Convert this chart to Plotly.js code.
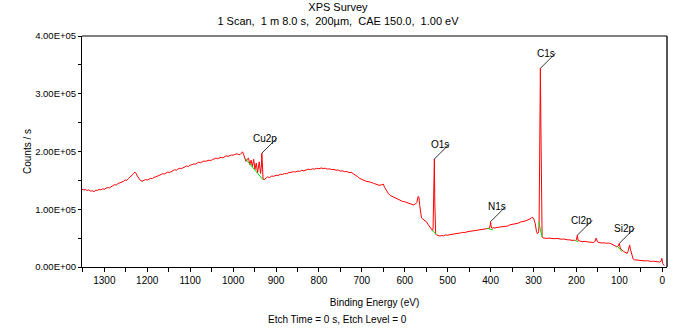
<!DOCTYPE html>
<html>
<head>
<meta charset="utf-8">
<script src="https://cdn.plot.ly/plotly-3.0.1.min.js"></script>
<style>html,body{margin:0;padding:0;background:#fff;}#chart{width:680px;height:328px;}</style>
</head>
<body>
<div id="chart"></div>
<script>
// Binding energy (eV) of survey spectrum points
const bindingEnergy = [
1352,1348,1344,1340,1336,1332,1328,1324,1320,1316,1312,1308,1304,1300,1296,1292,1288,1284,1280,1276,1272,1268,1264,1260,1256,1252,1248,1244,1240,1236,1232,1229,1226,1223,1220,1216,1212,1208,1204,1200,
1196,1192,1188,1184,1180,1176,1172,1168,1164,1160,1156,1152,1148,1144,1140,1136,1132,1128,1124,1120,1116,1112,1108,1104,1100,1096,1092,1088,1084,1080,
1076,1072,1068,1064,1060,1056,1052,1048,1044,1040,1036,1032,1028,1024,1020,1016,1012,1008,1004,1000,996,992,988,984,980,978,975,972,970,967,
964,961,958,955,952,949,946,943,939,936,934,933,932,930,928,925,920,915,910,905,900,895,890,885,880,875,870,865,860,855,
850,845,840,835,830,825,820,815,810,805,800,795,790,785,780,775,770,765,760,755,750,745,740,735,730,725,720,715,710,705,
700,695,690,685,680,673,668,665,660,655,650,647,643,638,634,630,625,620,615,610,605,600,595,590,585,580,576,572,569,567,
565,563,561,558,555,552,549,546,543,540,537,535,534,533,532,531,530,529,528,526,522,518,514,510,505,500,495,490,485,480,
475,470,465,460,455,450,445,440,435,430,425,420,415,410,406,403,401,400,399,397,394,390,385,380,375,370,365,360,355,350,
345,340,335,330,325,320,315,310,306,304,302,300,298,296,293,291,289,288,287,286,285,284,283,282,281,280,278,275,270,265,
260,255,250,245,240,235,230,225,220,215,210,205,202,200,198,196,193,190,185,180,175,170,165,160,157,154,151,148,145,140,
135,130,125,120,115,110,106,103,100,98,95,90,85,82,80,78,76,74,71,68,65,60,55,50,45,40,35,30,25,20,
15,10,6,3,1,-1,-3,-5
];
// Intensity (counts / s)
const countsPerSec = [
134500,133500,134000,132500,133500,131500,132000,130500,133000,132500,134500,133500,135500,134500,136500,137500,137000,139500,141000,142500,142000,144500,145500,147000,148000,150500,150000,153000,155500,158000,161500,164500,162000,157500,153500,150000,148500,149500,151500,150500,
152500,153500,153000,155500,156000,157500,158000,160500,161500,161000,163000,164500,163500,166000,167000,168500,167500,170000,171000,170500,172500,173500,175000,174000,176500,177000,178500,178000,180000,181500,
180500,182000,183500,183000,184500,185000,184000,186500,187000,188500,187500,189500,190000,189000,191000,192500,191500,193500,194000,193500,195500,196000,195000,194500,197500,199500,194000,188000,183000,187000,
188500,177000,185000,174000,186500,169000,180000,163000,182000,162000,175000,197000,168000,152000,151000,153500,156000,155000,157500,157000,159000,158500,160500,160000,162000,161500,163500,164000,165000,164500,
166000,165500,167500,166500,168000,169500,168500,170000,169500,171000,170000,171500,170500,171000,169500,170000,168500,169000,167500,168000,166000,166500,165000,165500,163500,164000,161500,159500,156500,153500,
151000,150000,148500,148000,147000,145000,143500,142500,141500,142000,143500,138000,132000,127000,124000,122500,120500,118500,116000,114000,113500,113000,111500,110500,109000,107500,108500,111500,122000,121000,
106000,92000,85000,83000,81500,80000,78000,74000,70500,66500,64000,62500,68000,130000,148000,187000,112000,62000,57000,55500,54000,53500,54500,54000,55500,55000,56000,56500,57500,57000,
58500,59000,60000,59500,61000,61500,62500,62000,63500,63000,64500,64000,65500,65000,66000,67000,72000,78500,71000,67000,68000,67500,68500,69000,70000,70500,71500,71000,73000,73500,
74000,75500,76000,78000,78500,79500,81000,82000,84000,86000,85000,84500,80000,75000,61000,58000,59000,62000,75000,150000,230000,344000,260000,100000,55000,52000,50500,50000,49500,50000,
49500,50000,49000,49500,48500,48000,48500,47500,47000,47000,46000,46500,45500,47000,55000,46000,45000,44500,44000,44500,43500,43000,43500,42500,44000,50000,43500,42500,42000,41500,
42000,41000,41500,40500,39000,37000,35000,36000,41000,33000,29500,27000,24000,23500,27000,36000,38000,30000,21000,14000,12500,12000,11500,12000,11000,10500,11000,10000,9500,10000,
9500,9000,8500,10000,15000,6000,3500,2500
];
// Green background (integration) segments, null separates regions
const backgroundBE = [972,930,null,537,527,null,408,395,null,288,280,null,203,196,null,105,94];
const backgroundCounts = [188000,151000,null,64000,57000,null,67000,64000,null,78500,52000,null,46000,44000,null,36000,27000];
// Peak labels
const peakNames = ['Cu2p','O1s','N1s','C1s','Cl2p','Si2p'];
const peakBE = [933,531,400,284,198,100];
const peakCounts = [197000,187000,78500,344000,55000,41000];
// Axis ticks
const yTickVals = [0,100000,200000,300000,400000];
const yTickText = ['0.00E+00','1.00E+05','2.00E+05','3.00E+05','4.00E+05'];
const yMinorVals = [50000,150000,250000,350000];

const FONT = 'Liberation Sans, Arial, sans-serif';

const traces = [
  {x: bindingEnergy, y: countsPerSec, type: 'scatter', mode: 'lines',
   line: {color: '#ff0000', width: 1}, hoverinfo: 'skip'},
  {x: backgroundBE, y: backgroundCounts, type: 'scatter', mode: 'lines',
   line: {color: '#00dd00', width: 1}, connectgaps: false, hoverinfo: 'skip'}
];

const shapes = peakNames.map((n, i) => ({
  type: 'line', xref: 'x', yref: 'y', xsizemode: 'pixel', ysizemode: 'pixel',
  xanchor: peakBE[i], yanchor: peakCounts[i], x0: 0, y0: 0, x1: 15, y1: 15,
  line: {color: '#333333', width: 1}
}));
shapes.push({type: 'line', xref: 'paper', yref: 'paper', x0: 1, x1: 1, y0: 0, y1: 1,
  line: {color: '#555555', width: 2}});
shapes.push({type: 'line', xref: 'paper', yref: 'paper', x0: 0, x1: 1, y0: 1, y1: 1,
  line: {color: '#000', width: 1}});

const annotations = peakNames.map((n, i) => ({
  text: n, x: peakBE[i], y: peakCounts[i], xref: 'x', yref: 'y',
  xshift: 17, yshift: 15, xanchor: 'right', yanchor: 'middle', showarrow: false,
  font: {family: FONT, size: 10, color: '#000'}
}));
annotations.push({text: 'Etch Time = 0 s, Etch Level = 0', xref: 'paper', yref: 'paper',
  x: 0.4376, y: -0.228, xanchor: 'center', yanchor: 'middle', showarrow: false,
  font: {family: FONT, size: 10, color: '#000'}});

const layout = {
  width: 680, height: 328,
  margin: {l: 82, r: 13, t: 36, b: 61},
  paper_bgcolor: '#fff', plot_bgcolor: '#fff',
  showlegend: false,
  font: {family: FONT, size: 10, color: '#000'},
  title: {text: 'XPS Survey<br>1 Scan,\u00a0 1 m 8.0 s,\u00a0 200µm,\u00a0 CAE 150.0,\u00a0 1.00 eV',
    xref: 'container', yref: 'container', x: 0.497, y: 0.967, xanchor: 'center', yanchor: 'top',
    font: {family: FONT, size: 11, color: '#000'}},
  xaxis: {range: [1352, -11], tick0: 0, dtick: 100, ticks: 'outside', ticklen: 4,
    tickcolor: '#000', showline: true, linecolor: '#000', linewidth: 1, mirror: false,
    showgrid: false, zeroline: false,
    minor: {dtick: 50, ticks: 'outside', ticklen: 4, tickcolor: '#000'},
    tickfont: {family: FONT, size: 10, color: '#000'},
    title: {text: 'Binding Energy (eV)', font: {family: FONT, size: 10, color: '#000'}, standoff: 13}},
  yaxis: {range: [0, 400000], tickmode: 'array', tickvals: yTickVals, ticktext: yTickText,
    ticks: 'outside', ticklen: 3, tickcolor: '#000', showline: true, linecolor: '#000', linewidth: 1,
    showgrid: false, zeroline: false,
    minor: {tickmode: 'array', tickvals: yMinorVals, ticks: 'outside', ticklen: 3, tickcolor: '#000'},
    tickfont: {family: FONT, size: 9.5, color: '#000'},
    title: {text: 'Counts / s', font: {family: FONT, size: 10, color: '#000'}, standoff: 1}},
  shapes: shapes,
  annotations: annotations
};

Plotly.newPlot('chart', traces, layout, {staticPlot: true, displayModeBar: false});
</script>
</body>
</html>
